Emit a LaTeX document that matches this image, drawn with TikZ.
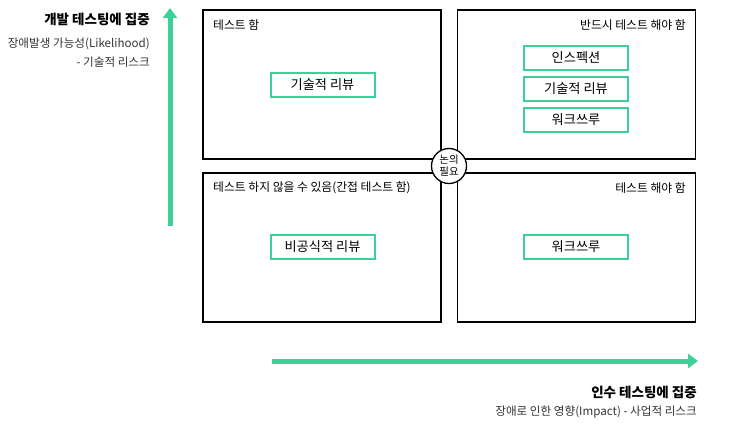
\documentclass[tikz,border=0pt]{standalone}
\usepackage{fontspec}
\setmainfont{Noto Sans CJK KR}
\usetikzlibrary{arrows.meta}
\definecolor{grn}{HTML}{3DD198}
\tikzset{
  quad/.style={draw=black, line width=1.3pt, minimum width=238pt, minimum height=149pt, inner sep=0pt},
  tech/.style={draw=grn, line width=2pt, minimum width=104pt, minimum height=24pt, inner sep=0pt, font=\fontsize{13.2}{15}\selectfont},
  qlabel/.style={font=\fontsize{11.8}{13}\selectfont, inner sep=0pt},
  axis/.style={draw=grn, line width=5pt, -{Triangle[length=10pt,width=14pt]}},
  title/.style={font=\fontsize{13.5}{15}\selectfont\bfseries, inner sep=0pt},
  sub/.style={font=\fontsize{11.6}{13}\selectfont, inner sep=0pt, text=black!80}
}
\begin{document}
\begin{tikzpicture}[x=1pt,y=-1pt]
\useasboundingbox (0,0) rectangle (750,432);
% quadrants
\node[quad] (tl) at (322,84.5) {};
\node[quad] (tr) at (576.5,84.5) {};
\node[quad] (bl) at (322,247.5) {};
\node[quad] (br) at (576.5,247.5) {};
% quadrant labels
\node[qlabel, anchor=west] (ltl) at (213,25) {테스트 함};
\node[qlabel, anchor=east] (ltr) at (686,25) {반드시 테스트 해야 함};
\node[qlabel, anchor=west] (lbl) at (213,188) {테스트 하지 않을 수 있음(간접 테스트 함)};
\node[qlabel, anchor=east] (lbr) at (686,188) {테스트 해야 함};
% technique boxes
\node[tech] (t1) at (322.5,84.5) {기술적 리뷰};
\node[tech] (t2) at (576,57.5) {인스펙션};
\node[tech] (t3) at (576,88.5) {기술적 리뷰};
\node[tech] (t4) at (576,119.5) {워크쓰루};
\node[tech] (t5) at (322.5,247) {비공식적 리뷰};
\node[tech] (t6) at (576,247) {워크쓰루};
% centre circle
\node[draw=black, line width=1.3pt, fill=white, circle, minimum size=35pt, inner sep=0pt, align=center,
  font=\fontsize{10.5}{12}\selectfont] (c) at (449,166) {논의\\필요};
% axes
\coordinate (vs) at (170,226);
\coordinate (ve) at (170,8);
\coordinate (hs) at (272,361);
\coordinate (he) at (698,361);
\draw[axis] (vs) -- (ve);
\draw[axis] (hs) -- (he);
% axis labels
\node[title, anchor=east] (vt) at (150,19) {개발 테스팅에 집중};
\node[sub, anchor=east] (vs1) at (150,44) {장애발생 가능성(Likelihood)};
\node[sub, anchor=east] (vs2) at (150,62) {- 기술적 리스크};
\node[title, anchor=east] (ht) at (697,392) {인수 테스팅에 집중};
\node[sub, anchor=east] (hs1) at (697,412) {장애로 인한 영향(Impact) - 사업적 리스크};
\end{tikzpicture}
\end{document}
